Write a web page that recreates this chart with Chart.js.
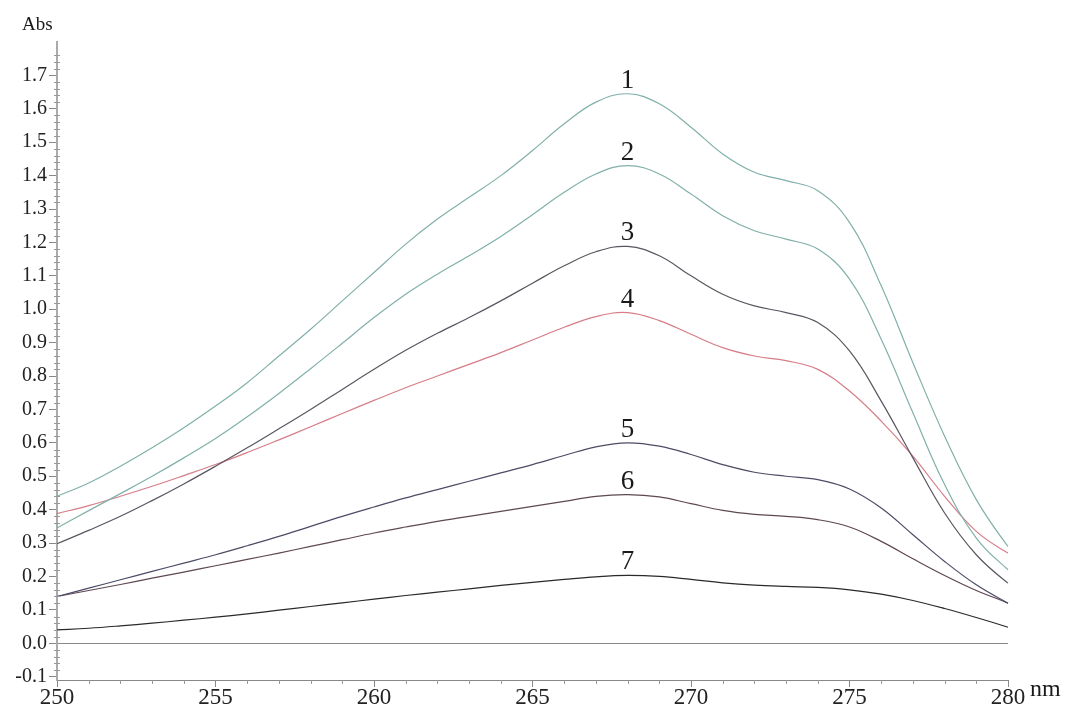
<!DOCTYPE html>
<html>
<head>
<meta charset="utf-8">
<script src="https://cdn.jsdelivr.net/npm/chart.js@4.4.1/dist/chart.umd.min.js"></script>
<style>
  html, body { margin: 0; padding: 0; background: #fff; }
  #wrap { width: 1077px; height: 717px; position: relative; }
</style>
</head>
<body>
<div id="wrap"><canvas id="spectra"></canvas></div>
<script>
// wavelengths (nm)
const wavelengths = [250, 251, 252, 253, 254, 255, 256, 257, 258, 259, 260, 261, 262, 263, 264, 265,
                     266, 267, 268, 269, 270, 271, 272, 273, 274, 275, 276, 277, 278, 279, 280, 280.3];

// absorbance of each curve
const curve1 = [0.44, 0.48, 0.53, 0.585, 0.645, 0.71, 0.78, 0.86, 0.94, 1.025, 1.11, 1.195, 1.27, 1.335, 1.40, 1.475,
                1.555, 1.62, 1.645, 1.615, 1.545, 1.465, 1.41, 1.385, 1.355, 1.26, 1.07, 0.84, 0.62, 0.43, 0.29, 0.265];
const curve2 = [0.345, 0.397, 0.448, 0.50, 0.555, 0.613, 0.678, 0.748, 0.822, 0.898, 0.975, 1.045, 1.105, 1.16, 1.218, 1.283,
                1.35, 1.405, 1.43, 1.405, 1.345, 1.28, 1.235, 1.21, 1.18, 1.09, 0.91, 0.69, 0.475, 0.315, 0.22, 0.20];
const curve3 = [0.298, 0.338, 0.38, 0.427, 0.477, 0.53, 0.585, 0.642, 0.70, 0.76, 0.82, 0.877, 0.928, 0.975, 1.025, 1.078,
                1.13, 1.172, 1.188, 1.16, 1.10, 1.045, 1.01, 0.99, 0.96, 0.875, 0.725, 0.555, 0.39, 0.265, 0.18, 0.165];
const curve4 = [0.388, 0.412, 0.44, 0.47, 0.502, 0.535, 0.571, 0.609, 0.648, 0.688, 0.727, 0.765, 0.80, 0.835, 0.87, 0.908,
                0.946, 0.978, 0.99, 0.966, 0.925, 0.885, 0.86, 0.846, 0.82, 0.755, 0.665, 0.56, 0.44, 0.335, 0.27, 0.26];
const curve5 = [0.14, 0.165, 0.19, 0.215, 0.24, 0.265, 0.292, 0.32, 0.35, 0.38, 0.408, 0.435, 0.46, 0.485, 0.51, 0.535,
                0.562, 0.588, 0.60, 0.59, 0.565, 0.535, 0.512, 0.50, 0.49, 0.462, 0.405, 0.325, 0.245, 0.175, 0.12, 0.105];
const curve6 = [0.14, 0.158, 0.176, 0.195, 0.213, 0.232, 0.251, 0.27, 0.29, 0.31, 0.33, 0.348, 0.365, 0.38, 0.395, 0.41,
                0.425, 0.44, 0.445, 0.438, 0.418, 0.398, 0.386, 0.38, 0.37, 0.348, 0.305, 0.253, 0.203, 0.158, 0.12, 0.105];
const curve7 = [0.04, 0.045, 0.052, 0.06, 0.069, 0.078, 0.088, 0.099, 0.11, 0.121, 0.132, 0.143, 0.153, 0.163, 0.173, 0.182,
                0.191, 0.199, 0.203, 0.20, 0.191, 0.181, 0.174, 0.17, 0.167, 0.16, 0.147, 0.128, 0.104, 0.077, 0.048, 0.038];

const curveNames = ['1', '2', '3', '4', '5', '6', '7'];
const curveColors = ['#80b0aa', '#80b0aa', '#5a5560', '#d67d88', '#4d4b66', '#5e4852', '#2a2a2a'];

const xTicks = [250, 255, 260, 265, 270, 275, 280];
const yTicks = [-0.1, 0.0, 0.1, 0.2, 0.3, 0.4, 0.5, 0.6, 0.7, 0.8, 0.9, 1.0, 1.1, 1.2, 1.3, 1.4, 1.5, 1.6, 1.7];

const SERIF = "'Liberation Serif', 'DejaVu Serif', serif";

function toPoints(values) {
    return values.map(function (v, i) {
        return { x: wavelengths[i], y: v };
    });
}

// minor ticks, curve numbers and the axis units
const decorations = {
    id: 'decorations',
    afterDraw(chart) {
        const ctx = chart.ctx;
        const xs = chart.scales.x;
        const ys = chart.scales.y;
        ctx.save();
        ctx.strokeStyle = '#999';
        ctx.lineWidth = 1;
        for (let v = 251; v < 280; v++) {
            if (v % 5 === 0) continue;
            const px = Math.round(xs.getPixelForValue(v)) + 0.5;
            ctx.beginPath();
            ctx.moveTo(px, xs.top);
            ctx.lineTo(px, xs.top + 4);
            ctx.stroke();
        }
        for (let k = -5; k <= 88; k++) {
            if (k % 5 === 0) continue;
            const py = Math.round(ys.getPixelForValue(k / 50)) + 0.5;
            ctx.beginPath();
            ctx.moveTo(ys.right - 3, py);
            ctx.lineTo(ys.right + 3, py);
            ctx.stroke();
        }

        ctx.fillStyle = '#1a1a1a';
        ctx.font = '27px ' + SERIF;
        ctx.textAlign = 'center';
        ctx.textBaseline = 'alphabetic';
        chart.data.datasets.forEach(function (ds, i) {
            const meta = chart.getDatasetMeta(i);
            let best = 0;
            ds.data.forEach(function (p, j) {
                if (p.y > ds.data[best].y) best = j;
            });
            const el = meta.data[best];
            ctx.fillText(curveNames[i], el.x, el.y - 6);
        });

        ctx.textAlign = 'left';
        ctx.font = '19px ' + SERIF;
        ctx.fillText('Abs', 22, 30);
        ctx.font = '24px ' + SERIF;
        ctx.fillText('nm', 1030, 696);
        ctx.restore();
    }
};

new Chart(document.getElementById('spectra'), {
    type: 'line',
    data: {
        datasets: [curve1, curve2, curve3, curve4, curve5, curve6, curve7].map(function (vals, i) {
            return {
                label: curveNames[i],
                data: toPoints(vals),
                borderColor: curveColors[i],
                borderWidth: 1.2,
                pointRadius: 0,
                fill: false,
                tension: 0.4,
                clip: false
            };
        })
    },
    options: {
        responsive: true,
        maintainAspectRatio: false,
        animation: false,
        devicePixelRatio: 1,
        layout: { padding: { top: 42, right: 69, left: 0, bottom: 0 } },
        plugins: {
            legend: { display: false },
            tooltip: { enabled: false }
        },
        scales: {
            x: {
                type: 'linear',
                min: 250,
                max: 280,
                afterBuildTicks: function (scale) {
                    scale.ticks = xTicks.map(function (v) { return { value: v }; });
                },
                afterFit: function (scale) { scale.height = 37; },
                ticks: {
                    font: { family: SERIF, size: 23 },
                    color: '#222',
                    padding: -3,
                    maxRotation: 0,
                    autoSkip: false
                },
                grid: { drawOnChartArea: false, tickLength: 7, tickColor: '#888' },
                border: { color: '#888', width: 1 }
            },
            y: {
                type: 'linear',
                min: -0.11,
                max: 1.8,
                afterBuildTicks: function (scale) {
                    scale.ticks = yTicks.map(function (v) { return { value: v }; });
                },
                afterFit: function (scale) { scale.width = 57; },
                ticks: {
                    font: { family: SERIF, size: 20 },
                    color: '#222',
                    padding: 2,
                    autoSkip: false,
                    callback: function (v) { return Number(v).toFixed(1); }
                },
                grid: {
                    drawOnChartArea: true,
                    tickLength: 8,
                    tickColor: '#888',
                    color: function (c) {
                        return c.tick && Math.abs(c.tick.value) < 1e-9 ? '#888' : 'rgba(0,0,0,0)';
                    }
                },
                border: { color: '#aaa', width: 2 }
            }
        }
    },
    plugins: [decorations]
});
</script>
</body>
</html>
